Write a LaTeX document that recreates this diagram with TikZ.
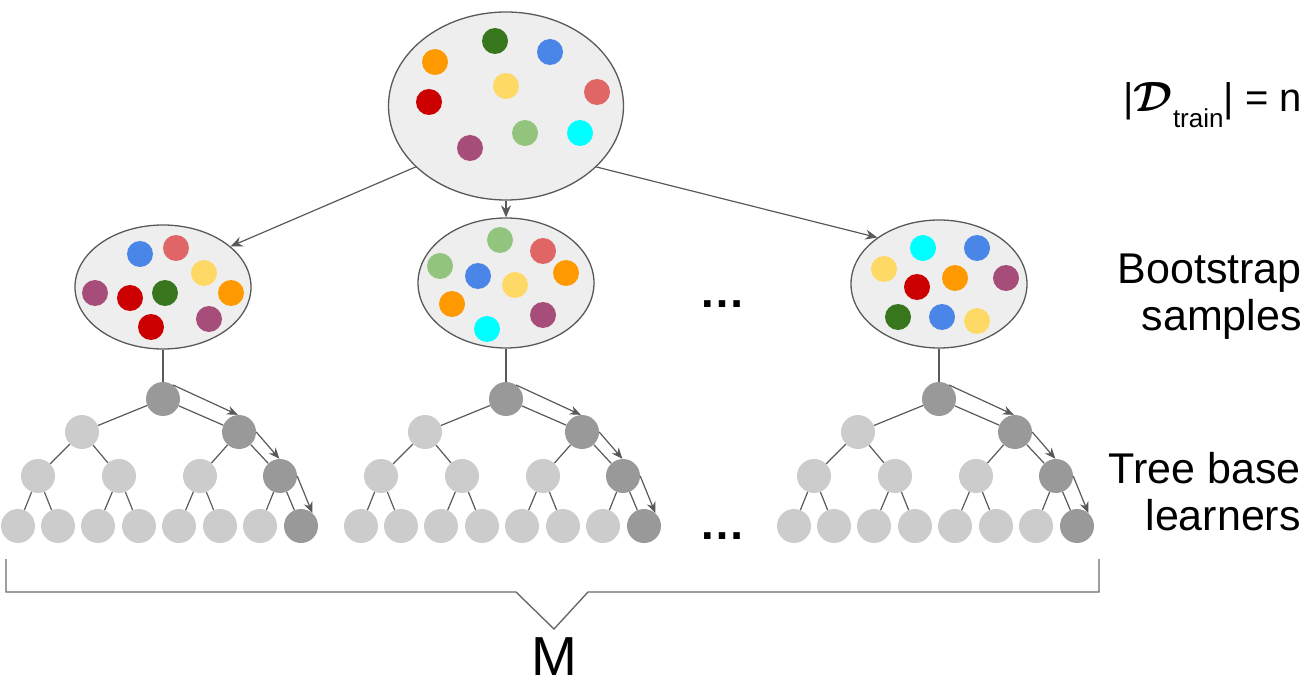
\documentclass[tikz,border=0pt]{standalone}
\usepackage{fontspec}
\setmainfont{Liberation Sans}
\usepackage{bm}
\usepackage{graphicx}
\usetikzlibrary{shapes.geometric,arrows.meta}
\definecolor{cOrange}{HTML}{FF9900}
\definecolor{cDGreen}{HTML}{38761D}
\definecolor{cBlue}{HTML}{4A86E8}
\definecolor{cYellow}{HTML}{FFD966}
\definecolor{cPink}{HTML}{E06666}
\definecolor{cRed}{HTML}{CC0000}
\definecolor{cLGreen}{HTML}{93C47D}
\definecolor{cCyan}{HTML}{00FFFF}
\definecolor{cPurple}{HTML}{A64D79}
\definecolor{bagfill}{HTML}{EEEEEE}
\definecolor{lineg}{HTML}{595959}
\definecolor{lightn}{HTML}{CCCCCC}
\definecolor{darkn}{HTML}{999999}
\newcommand\pdot[3]{\fill[#1] (#2,#3) circle (13);}
\newcommand\mytree[2]{%
\begin{scope}[xshift=#2pt]
\node[td] (#1r) at (0,399) {};
\node[tn] (#1a) at (-81,432) {};
\node[td] (#1b) at (76,432) {};
\node[tn] (#1p) at (-125,476) {};
\node[tn] (#1q) at (-44,476) {};
\node[tn] (#1s) at (37,476) {};
\node[td] (#1d) at (117,476) {};
\node[tn] (#1l1) at (-145,526) {};
\node[tn] (#1l2) at (-105,526) {};
\node[tn] (#1l3) at (-65,526) {};
\node[tn] (#1l4) at (-24,526) {};
\node[tn] (#1l5) at (16,526) {};
\node[tn] (#1l6) at (57,526) {};
\node[tn] (#1l7) at (97,526) {};
\node[td] (#1l8) at (138,526) {};
\draw[edge] (#1r) -- (#1a);
\draw[edge] (#1r) -- (#1b);
\draw[edge] (#1a) -- (#1p);
\draw[edge] (#1a) -- (#1q);
\draw[edge] (#1b) -- (#1s);
\draw[edge] (#1b) -- (#1d);
\draw[edge] (#1p) -- (#1l1);
\draw[edge] (#1p) -- (#1l2);
\draw[edge] (#1q) -- (#1l3);
\draw[edge] (#1q) -- (#1l4);
\draw[edge] (#1s) -- (#1l5);
\draw[edge] (#1s) -- (#1l6);
\draw[edge] (#1d) -- (#1l7);
\draw[edge] (#1d) -- (#1l8);
\draw[tarr] (#1r.55) -- (#1b.94);
\draw[tarr] (#1b.0) -- (#1d.92);
\draw[tarr] (#1d.0) -- (#1l8.49);
\end{scope}}
\begin{document}
\begin{tikzpicture}[x=1pt,y=-1pt,
  bag/.style={ellipse, draw=lineg, fill=bagfill, line width=1.3pt, inner sep=0pt, minimum width=176pt},
  tn/.style={circle, fill=lightn, inner sep=0pt, minimum size=34pt},
  td/.style={tn, fill=darkn},
  edge/.style={draw=lineg, line width=1.2pt},
  tarr/.style={draw=lineg, line width=1.2pt, -{Stealth[length=11pt,width=9pt]}},
  barr/.style={draw=lineg, line width=1.2pt, -{Stealth[length=12pt,width=10pt]}},
  brace/.style={draw=lineg!90, line width=1.4pt, line join=miter},
  lbl/.style={font=\fontsize{43}{47}\selectfont, inner sep=0pt, align=right, anchor=north east}]
\useasboundingbox (0,0) rectangle (1307,687);

% bags
\node[bag, minimum width=235pt, minimum height=188pt] (top) at (506,106) {};
\node[bag, minimum height=124pt] (b1) at (163,287) {};
\node[bag, minimum height=130pt] (b2) at (506,283) {};
\node[bag, minimum height=128pt] (b3) at (939,284) {};

% dots top
\pdot{cOrange}{435}{62}
\pdot{cDGreen}{495}{41}
\pdot{cBlue}{550}{52}
\pdot{cYellow}{506}{86}
\pdot{cPink}{597}{92}
\pdot{cRed}{429}{102}
\pdot{cLGreen}{525}{133}
\pdot{cCyan}{580}{133}
\pdot{cPurple}{470}{148}
% dots left
\pdot{cBlue}{140}{254}
\pdot{cPink}{176}{248}
\pdot{cYellow}{204}{273}
\pdot{cPurple}{95}{293}
\pdot{cRed}{130}{298}
\pdot{cDGreen}{165}{293}
\pdot{cOrange}{231}{293}
\pdot{cRed}{151}{327}
\pdot{cPurple}{209}{319}
% dots middle
\pdot{cLGreen}{500}{240}
\pdot{cPink}{543}{251}
\pdot{cLGreen}{440}{266}
\pdot{cBlue}{478}{276}
\pdot{cYellow}{515}{285}
\pdot{cOrange}{566}{273}
\pdot{cOrange}{452}{304}
\pdot{cPurple}{543}{315}
\pdot{cCyan}{487}{329}
% dots right
\pdot{cCyan}{923}{248}
\pdot{cBlue}{977}{248}
\pdot{cYellow}{884}{269}
\pdot{cRed}{917}{287}
\pdot{cOrange}{955}{278}
\pdot{cPurple}{1006}{278}
\pdot{cDGreen}{898}{317}
\pdot{cBlue}{942}{317}
\pdot{cYellow}{977}{321}

% bootstrap arrows
\draw[barr] (top.214) -- (b1.31);
\draw[barr] (top.south) -- (b2.north);
\draw[barr] (top.326) -- (b3.143);

% trees
\mytree{A}{163}
\mytree{B}{506}
\mytree{C}{939}
\draw[edge] (b1.south) -- (Ar.north);
\draw[edge] (b2.south) -- (Br.north);
\draw[edge] (b3.south) -- (Cr.north);

% ellipses
\node[font=\bfseries\fontsize{46}{48}\selectfont, anchor=base, inner sep=0pt] (dots1) at (722,308) {…};
\node[font=\bfseries\fontsize{46}{48}\selectfont, anchor=base, inner sep=0pt] (dots2) at (722,539) {…};

% labels
\node[anchor=base east, inner sep=0pt, font=\fontsize{40}{42}\selectfont] (dlab) at (1302,112)
  {|\scalebox{1.7}{$\bm{\mathcal{D}}$}\raisebox{-16pt}{\fontsize{26}{28}\selectfont train}| = n};
\node[lbl] (bs) at (1302,254) {Bootstrap\\samples};
\node[lbl] (tb) at (1301,452) {Tree base\\learners};

% brace
\coordinate (bl) at (6,559);
\coordinate (blb) at (6,592);
\coordinate (vl) at (516,592);
\coordinate (vm) at (554,629);
\coordinate (vr) at (588,592);
\coordinate (brb) at (1099,592);
\coordinate (br) at (1099,559);
\draw[brace] (bl) -- (blb) -- (vl) -- (vm) -- (vr) -- (brb) -- (br);
\node[font=\fontsize{55}{58}\selectfont, anchor=base, inner sep=0pt] (M) at (554,675) {M};
\end{tikzpicture}
\end{document}
